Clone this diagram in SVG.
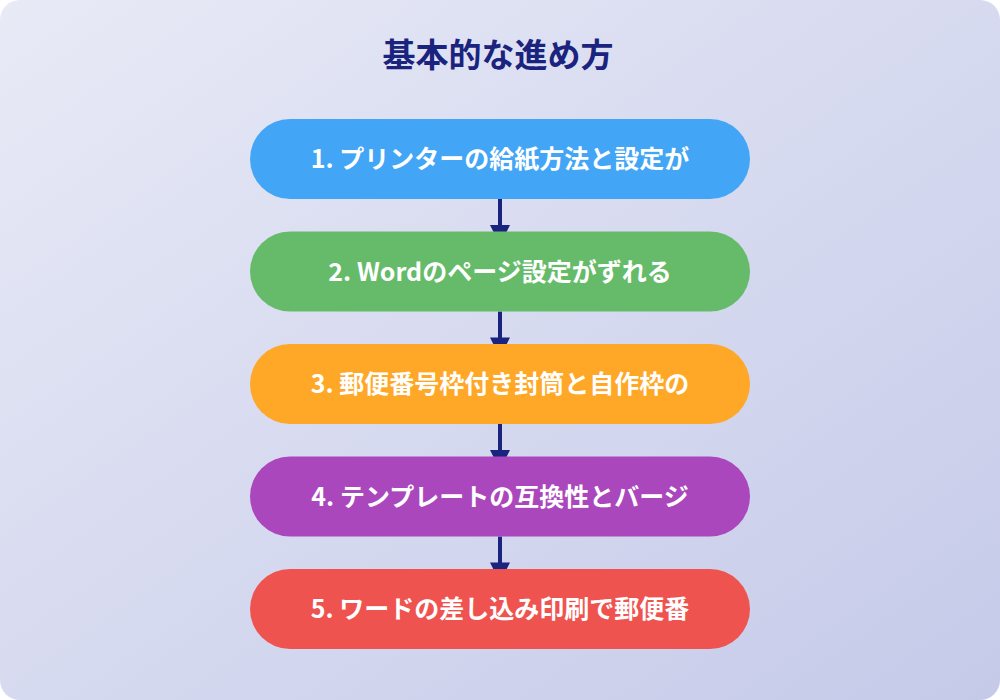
<svg xmlns="http://www.w3.org/2000/svg" width="1000" height="700" viewBox="0 0 1000 700">
<defs>
<linearGradient id="bg" x1="0" y1="0" x2="1" y2="1">
<stop offset="0" stop-color="#e8eaf6"/>
<stop offset="1" stop-color="#c5cae9"/>
</linearGradient>
</defs>
<style>
.node text{font-family:"Noto Sans CJK JP","Noto Sans",sans-serif;font-weight:bold;font-size:25px;fill:#ffffff;text-anchor:middle}
.title{font-family:"Noto Sans CJK JP","Noto Sans",sans-serif;font-weight:bold;font-size:33px;fill:#1a237e;text-anchor:middle}
.conn line{stroke:#1a237e;stroke-width:4}
.conn polygon{fill:#1a237e}
</style>
<rect x="0" y="0" width="1000" height="700" fill="#ffffff"/>
<rect x="0" y="0" width="1000" height="700" rx="20" fill="url(#bg)"/>
<text class="title" x="498" y="67">基本的な進め方</text>
<g id="connectors" class="conn">
<line x1="500" y1="199" x2="500" y2="226"/><polygon points="490,225 510,225 500,245"/>
<line x1="500" y1="311.5" x2="500" y2="338.5"/><polygon points="490,337.5 510,337.5 500,357.5"/>
<line x1="500" y1="424" x2="500" y2="451"/><polygon points="490,450 510,450 500,470"/>
<line x1="500" y1="536.5" x2="500" y2="563.5"/><polygon points="490,562.5 510,562.5 500,582.5"/>
</g>
<g id="node1" class="node"><rect x="250" y="119" width="500" height="80" rx="40" fill="#42a5f5"/><text x="500" y="168">1. プリンターの給紙方法と設定が</text></g>
<g id="node2" class="node"><rect x="250" y="231.5" width="500" height="80" rx="40" fill="#66bb6a"/><text x="500" y="280.5">2. Wordのページ設定がずれる</text></g>
<g id="node3" class="node"><rect x="250" y="344" width="500" height="80" rx="40" fill="#ffa726"/><text x="500" y="393">3. 郵便番号枠付き封筒と自作枠の</text></g>
<g id="node4" class="node"><rect x="250" y="456.5" width="500" height="80" rx="40" fill="#ab47bc"/><text x="500" y="505.5">4. テンプレートの互換性とバージ</text></g>
<g id="node5" class="node"><rect x="250" y="569" width="500" height="80" rx="40" fill="#ef5350"/><text x="500" y="618">5. ワードの差し込み印刷で郵便番</text></g>
</svg>
